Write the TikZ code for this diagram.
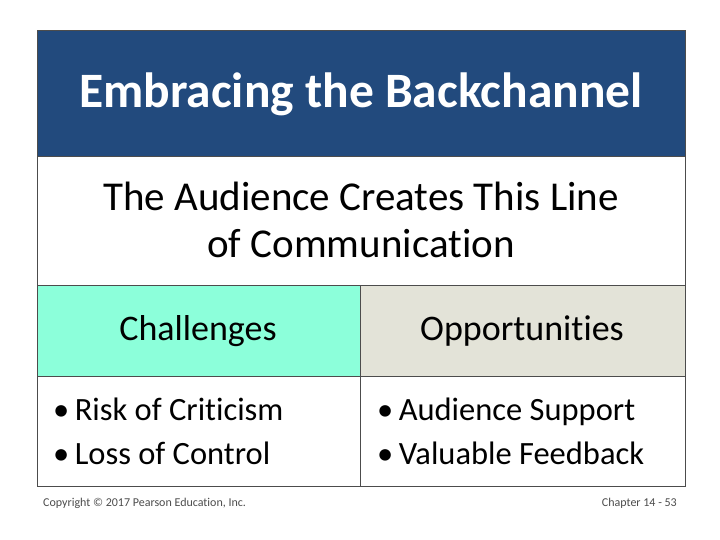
\documentclass[tikz,border=0pt]{standalone}
\usepackage{fontspec}
\setmainfont[Ligatures=NoCommon]{Carlito}
\begin{document}
\begin{tikzpicture}[x=1pt,y=-1pt,
  cell/.style={draw=black!70,line width=0.6pt},
  txt/.style={inner sep=0pt,align=left}]
\useasboundingbox (0,0) rectangle (720,540);
\fill[white] (0,0) rectangle (720,540);
\definecolor{tb}{HTML}{224A7D}
\definecolor{cy}{HTML}{8CFFDA}
\definecolor{gy}{HTML}{E3E3D8}
\filldraw[cell,fill=tb] (37,30) rectangle (685,156);
\draw[cell] (37,156) rectangle (685,285);
\filldraw[cell,fill=cy] (37,285) rectangle (360,376);
\filldraw[cell,fill=gy] (360,285) rectangle (685,376);
\draw[cell] (37,376) rectangle (360,486);
\draw[cell] (360,376) rectangle (685,486);
\node[txt,text=white,font=\fontsize{49.5}{60}\selectfont\bfseries] (title) at (361,94) {Embracing the Backchannel};
\node[txt,align=center,font=\fontsize{41}{47}\selectfont] (sub) at (361,220) {The Audience Creates This Line\\of Communication};
\node[txt,font=\fontsize{36}{40}\selectfont] (ch) at (198,331) {Challenges};
\node[txt,font=\fontsize{36}{40}\selectfont] (op) at (522,331) {Opportunities};
\node[txt,anchor=west,font=\fontsize{32.5}{44}\selectfont] (l) at (53,431) {\textbullet\,Risk of Criticism\\\textbullet\,Loss of Control};
\node[txt,anchor=west,font=\fontsize{32.5}{44}\selectfont] (r) at (377,431) {\textbullet\,Audience Support\\\textbullet\,Valuable Feedback};
\node[txt,anchor=west,text=black!70,font=\fontsize{12}{14}\selectfont] (cp) at (43,503) {Copyright © 2017 Pearson Education, Inc.};
\node[txt,anchor=east,text=black!70,font=\fontsize{12}{14}\selectfont] (pg) at (677,503) {Chapter 14 - 53};
\end{tikzpicture}
\end{document}
